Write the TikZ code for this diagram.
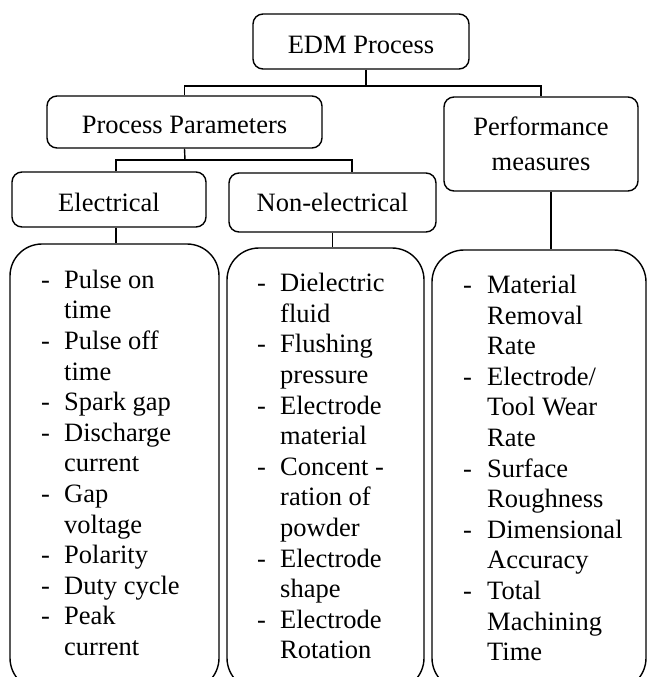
\documentclass[tikz,border=0pt]{standalone}
\usepackage{fontspec}
\setmainfont{Liberation Serif}
\newcommand{\dashitem}{\makebox[23pt][l]{-}}
\newcommand{\contline}{\hspace*{23pt}}
\begin{document}
\begin{tikzpicture}[x=1pt,y=-1pt,
  every node/.style={font=\fontsize{26.5pt}{30.6pt}\selectfont},
  hbox/.style={draw, line width=1.4pt, rounded corners=10pt, inner sep=0pt, align=center},
  lowtext/.style={text height=23pt, text depth=0pt},
  lbox/.style={draw, line width=1.4pt, rounded corners=32pt, inner sep=0pt},
  conn/.style={line width=1.4pt},
  lst/.style={anchor=base west, inner sep=0pt}]
\useasboundingbox (0,0) rectangle (648,677);

% header boxes
\node[hbox, lowtext, minimum width=216pt, minimum height=55pt] (edm) at (361,41.5) {EDM Process};
\node[hbox, lowtext, minimum width=275pt, minimum height=52pt] (pp) at (184.5,122) {Process Parameters};
\node[hbox, minimum width=194pt, minimum height=94pt, font=\fontsize{26.5pt}{35pt}\selectfont] (pm) at (541,144) {Performance\\measures};
\node[hbox, lowtext, minimum width=194pt, minimum height=55pt] (el) at (109,199.5) {Electrical};
\node[hbox, minimum width=207pt, minimum height=59pt] (ne) at (332.5,202.5) {Non-electrical};

% list boxes (extend past the lower edge)
\node[lbox, minimum width=209pt, minimum height=446pt] (ll) at (114.5,467) {};
\node[lbox, minimum width=197pt, minimum height=442pt] (ml) at (325.5,469) {};
\node[lbox, minimum width=214pt, minimum height=440pt] (rl) at (539,470) {};

% connectors
\coordinate (j1) at (366,86);
\coordinate (j2) at (185,160);
\draw[conn] ([xshift=5pt]edm.south) -- (j1);
\draw[conn] (pp.north) |- (j1) -| (pm.north);
\draw[conn] (pp.south) -- (j2);
\draw[conn] ([xshift=7pt]el.north) |- (j2) -| ([xshift=19.5pt]ne.north);
\draw[conn] ([xshift=7pt]el.south) -- ([xshift=7pt]el.south |- ll.north);
\draw[conn] (ne.south) -- (ne.south |- ml.north);
\draw[conn] ([xshift=10pt]pm.south) -- ([xshift=10pt]pm.south |- rl.north);

% list texts
\node[lst] (t1) at (41,288.3) {\parbox[t]{175pt}{\raggedright
\dashitem Pulse on\\
\contline time\\
\dashitem Pulse off\\
\contline time\\
\dashitem Spark gap\\
\dashitem Discharge\\
\contline current\\
\dashitem Gap\\
\contline voltage\\
\dashitem Polarity\\
\dashitem Duty cycle\\
\dashitem Peak\\
\contline current}};
\node[lst] (t2) at (257,291.7) {\parbox[t]{165pt}{\raggedright
\dashitem Dielectric\\
\contline fluid\\
\dashitem Flushing\\
\contline pressure\\
\dashitem Electrode\\
\contline material\\
\dashitem Concent -\\
\contline ration of\\
\contline powder\\
\dashitem Electrode\\
\contline shape\\
\dashitem Electrode\\
\contline Rotation}};
\node[lst] (t3) at (463,293.5) {\parbox[t]{180pt}{\raggedright
\makebox[24pt][l]{-}Material\\
\hspace*{24pt}Removal\\
\hspace*{24pt}Rate\\
\makebox[24pt][l]{-}Electrode/\\
\hspace*{24pt}Tool Wear\\
\hspace*{24pt}Rate\\
\makebox[24pt][l]{-}Surface\\
\hspace*{24pt}Roughness\\
\makebox[24pt][l]{-}Dimensional\\
\hspace*{24pt}Accuracy\\
\makebox[24pt][l]{-}Total\\
\hspace*{24pt}Machining\\
\hspace*{24pt}Time}};
\end{tikzpicture}
\end{document}
